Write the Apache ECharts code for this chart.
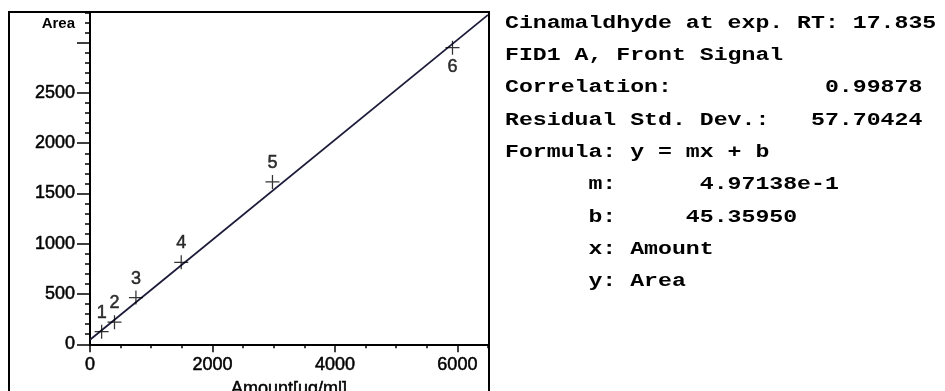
<!DOCTYPE html>
<html>
<head>
<meta charset="utf-8">
<script src="https://cdn.jsdelivr.net/npm/echarts@6/dist/echarts.min.js"></script>
<style>
  html, body { margin: 0; padding: 0; background: #fff; }
  #chart { width: 945px; height: 391px; }
</style>
</head>
<body>
<div id="chart"></div>
<script>
// ---- data ----
const amounts = [190, 400, 750, 1490, 2980, 5920];      // x: Amount [ug/ml]
const areas = [125, 220, 465, 815, 1615, 2950];          // y: Area
const pointLabels = ['1', '2', '3', '4', '5', '6'];
const fitX = [0, 6500];                                  // regression line ends
const fitY = [45.36, 3276.76];
const xTickLabels = ['0', '2000', '4000', '6000'];
const yTickLabels = ['0', '500', '1000', '1500', '2000', '2500'];
const xMajorTicks = [0, 2000, 4000, 6000];
const yMajorTicks = [0, 500, 1000, 1500, 2000, 2500, 3000];
const infoLines = [
  'Cinamaldhyde at exp. RT: 17.835',
  'FID1 A, Front Signal',
  'Correlation:           0.99878',
  'Residual Std. Dev.:   57.70424',
  'Formula: y = mx + b',
  '      m:      4.97138e-1',
  '      b:     45.35950',
  '      x: Amount',
  '      y: Area'
];

// ---- chart ----
const chart = echarts.init(document.getElementById('chart'), null, { renderer: 'canvas' });
const gridPos = { left: 90, top: 12.5, width: 398, height: 331.8, containLabel: false, outerBoundsMode: 'none' };
const sansFont = 'Liberation Sans, Arial, sans-serif';
const heavyText = { color: '#000', fontSize: 18, fontFamily: sansFont, textBorderColor: '#000', textBorderWidth: 0.5 };

const scatterData = amounts.map((x, i) => {
  const item = { value: [x, areas[i]], name: pointLabels[i] };
  if (i === amounts.length - 1) item.label = { position: 'bottom', distance: 3 };
  return item;
});

const graphics = [
  {
    type: 'rect', z: 100,
    shape: { x: 9, y: 12, width: 480, height: 420 },
    style: { fill: 'none', stroke: '#000', lineWidth: 2 }
  },
  {
    type: 'text', z: 100, x: 75, y: 24,
    style: { text: 'Area', fill: '#000', font: 'bold 15px ' + sansFont, textAlign: 'right', textVerticalAlign: 'middle' }
  }
];
infoLines.forEach((t, i) => {
  graphics.push({
    type: 'text', z: 100, x: 505, y: 23 + 32.3 * i, scaleX: 1.22,
    style: { text: t, fill: '#000', font: 'bold 19px "Liberation Mono", monospace', textVerticalAlign: 'middle' }
  });
});

chart.setOption({
  animation: false,
  backgroundColor: '#fff',
  grid: [
    Object.assign({}, gridPos),
    Object.assign({}, gridPos)
  ],
  xAxis: [
    {
      type: 'value', gridIndex: 0, min: 0, max: 6500, interval: 2000,
      axisLine: { show: true, onZero: false, lineStyle: { color: '#000', width: 2 } },
      axisTick: { show: true, length: 8, customValues: xMajorTicks, lineStyle: { color: '#000', width: 1.5 } },
      axisLabel: Object.assign({
        margin: 12,
        customValues: xMajorTicks,
        formatter: (v) => xTickLabels[xMajorTicks.indexOf(v)] || ''
      }, heavyText),
      splitLine: { show: false },
      name: 'Amount[ug/ml]', nameLocation: 'middle', nameGap: 35,
      nameTextStyle: Object.assign({}, heavyText)
    },
    {
      type: 'value', gridIndex: 1, min: 0, max: 6500, interval: 500,
      axisLine: { show: false },
      axisTick: { show: true, length: 4, lineStyle: { color: '#000', width: 1.5 } },
      axisLabel: { show: false },
      splitLine: { show: false }
    }
  ],
  yAxis: [
    {
      type: 'value', gridIndex: 0, min: 0, max: 3300, interval: 500,
      axisLine: { show: true, onZero: false, lineStyle: { color: '#000', width: 2 } },
      axisTick: { show: true, length: 13, customValues: yMajorTicks, lineStyle: { color: '#000', width: 1.5 } },
      axisLabel: Object.assign({
        margin: 15,
        customValues: yMajorTicks.slice(0, yTickLabels.length),
        formatter: (v) => yTickLabels[yMajorTicks.indexOf(v)] || ''
      }, heavyText),
      splitLine: { show: false }
    },
    {
      type: 'value', gridIndex: 1, min: 0, max: 3300, interval: 100,
      axisLine: { show: false },
      axisTick: { show: true, length: 5, lineStyle: { color: '#000', width: 1.5 } },
      axisLabel: { show: false },
      splitLine: { show: false }
    }
  ],
  graphic: graphics,
  series: [
    {
      type: 'line', xAxisIndex: 0, yAxisIndex: 0,
      data: fitX.map((x, i) => [x, fitY[i]]),
      symbol: 'none',
      lineStyle: { color: '#1c1c3a', width: 1.8 },
      silent: true, z: 2
    },
    {
      type: 'scatter', xAxisIndex: 0, yAxisIndex: 0,
      data: scatterData,
      symbol: 'path://M-0.9,-10 H0.9 V-0.9 H10 V0.9 H0.9 V10 H-0.9 V0.9 H-10 V-0.9 H-0.9 Z',
      symbolSize: 14,
      itemStyle: { color: '#000' },
      label: Object.assign({
        show: true, position: 'top', distance: 3,
        formatter: (p) => p.name
      }, heavyText),
      z: 3
    }
  ]
});
</script>
</body>
</html>
